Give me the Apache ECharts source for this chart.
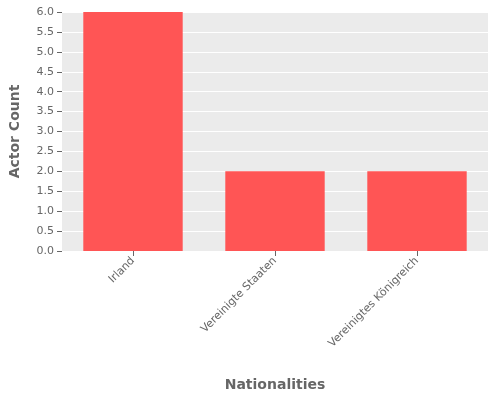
<!DOCTYPE html>
<html><head><meta charset="utf-8">
<script src="https://cdn.jsdelivr.net/npm/echarts@6/dist/echarts.min.js"></script>
<style>html,body{margin:0;padding:0;background:#fff}#c{width:500px;height:400px}</style>
</head><body><div id="c"></div>
<script>
const categories = ["Irland", "Vereinigte Staaten", "Vereinigtes Königreich"];
const actorCounts = [6, 2, 2];
const chart = echarts.init(document.getElementById('c'));
chart.setOption({
  animation: false,
  grid: {left: 62, right: 12, top: 12, bottom: 149, backgroundColor: '#EBEBEB', show: true, borderWidth: 0},
  xAxis: {
    type: 'category', data: categories,
    name: 'Nationalities', nameLocation: 'middle', nameGap: 127,
    nameTextStyle: {color: '#666', fontSize: 14, fontWeight: 'bold', fontFamily: 'DejaVu Sans'},
    axisLine: {show: false}, axisTick: {show: true, alignWithLabel: true, lineStyle: {color: '#666'}},
    axisLabel: {rotate: 45, color: '#666', fontSize: 11, fontFamily: 'DejaVu Sans', interval: 0},
    splitLine: {show: false}
  },
  yAxis: {
    type: 'value', min: 0, max: 6, interval: 0.5,
    name: 'Actor Count', nameLocation: 'middle', nameGap: 40,
    nameTextStyle: {color: '#666', fontSize: 14, fontWeight: 'bold', fontFamily: 'DejaVu Sans'},
    axisLine: {show: false}, axisTick: {show: true, lineStyle: {color: '#666'}},
    axisLabel: {color: '#666', fontSize: 11, fontFamily: 'DejaVu Sans', formatter: v => v.toFixed(1)},
    splitLine: {lineStyle: {color: '#fff', width: 1}}
  },
  series: [{type: 'bar', data: actorCounts, barWidth: '70%', itemStyle: {color: '#FF5555'}}]
});
</script></body></html>
